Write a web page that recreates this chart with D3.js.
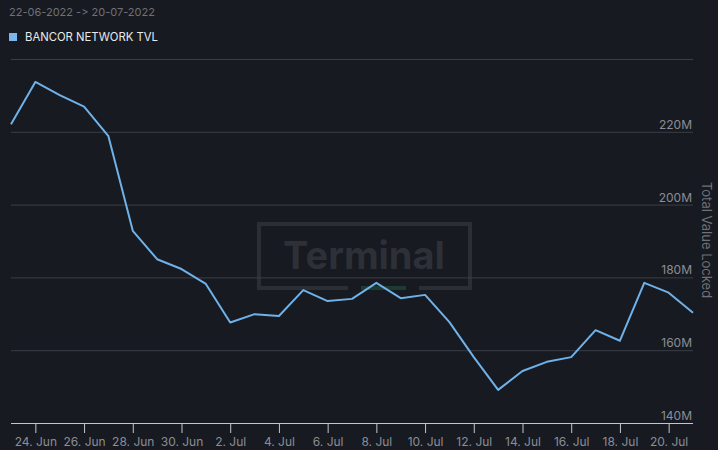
<!DOCTYPE html>
<html><head><meta charset="utf-8">
<script src="https://cdn.jsdelivr.net/npm/d3@7"></script>
<style>html,body{margin:0;padding:0;background:#171a21;}svg{display:block;font-family:Inter, "Noto Sans", sans-serif;font-feature-settings:"calt" 0, "liga" 0;font-variant-ligatures:none;}</style>
</head><body><svg id="c" width="718" height="450"></svg>
<script>
const dates = ["2022-06-23","2022-06-24","2022-06-25","2022-06-26","2022-06-27","2022-06-28","2022-06-29","2022-06-30","2022-07-01","2022-07-02","2022-07-03","2022-07-04","2022-07-05","2022-07-06","2022-07-07","2022-07-08","2022-07-09","2022-07-10","2022-07-11","2022-07-12","2022-07-13","2022-07-14","2022-07-15","2022-07-16","2022-07-17","2022-07-18","2022-07-19","2022-07-20","2022-07-21"];
const tvl = [222.1,233.7,230.1,226.9,218.8,192.8,185.0,182.3,178.2,167.6,169.9,169.4,176.5,173.5,174.1,178.5,174.3,175.2,167.7,158.1,149.1,154.3,156.8,158.1,165.5,162.6,178.5,175.8,170.3];
const yTicks = [140,160,180,200,220,240];
const seriesName = "BANCOR NETWORK TVL";
const title = "22-06-2022 -> 20-07-2022";
const yTitle = "Total Value Locked";

(function(){
const svg = d3.select("#c");
const parse = d3.utcParse("%Y-%m-%d");
const data = dates.map((d,i)=>({date:parse(d), v:tvl[i]}));
const pl=11, pr=693, pt=59, pb=423;
const x = d3.scaleUtc().domain([parse("2022-06-23"), parse("2022-07-21")]).range([pl,pr]);
const y = d3.scaleLinear().domain([140,240]).range([pb,pt]);

svg.append("rect").attr("width",718).attr("height",450).attr("fill","#171a21");

// watermark
const wm = svg.append("g");
wm.append("path").attr("d","M348,288 L259,288 L259,224 L470,224 L470,288 L419,288")
  .attr("fill","none").attr("stroke","#2b2e35").attr("stroke-width",4);
wm.append("rect").attr("x",361).attr("y",286).attr("width",45).attr("height",4).attr("fill","#1c3b31");
wm.append("text").attr("x",364).attr("y",269).attr("text-anchor","middle")
  .attr("font-size",38).attr("font-weight",700).attr("fill","#2d3037").text("Terminal");

// grid
svg.append("g").selectAll("line").data(yTicks.filter(t=>t>140)).join("line")
  .attr("x1",pl).attr("x2",pr).attr("y1",d=>y(d)+0.5).attr("y2",d=>y(d)+0.5)
  .attr("stroke","#3b3e45").attr("stroke-width",1);
svg.append("g").selectAll("text").data(yTicks.filter(t=>t<240)).join("text")
  .attr("x",692).attr("y",d=>y(d)-3).attr("text-anchor","end")
  .attr("font-size",12).attr("fill","#8b8e95").text(d=>d+"M");

// x axis
const xAxis = d3.axisBottom(x)
  .tickValues(d3.utcDay.range(parse("2022-06-24"), parse("2022-07-21"), 2))
  .tickFormat(d3.utcFormat("%-d. %b")).tickSize(10).tickSizeOuter(0).tickPadding(4);
const gx = svg.append("g").attr("transform",`translate(0,${pb})`).call(xAxis);
gx.select(".domain").attr("stroke","#c2c6ce").attr("d",`M${pl},0.5H${pr}`);
gx.selectAll(".tick line").attr("stroke","#c2c6ce");
gx.selectAll(".tick text").attr("fill","#8b8e95").attr("font-size",12).attr("font-family","Inter, 'Noto Sans', sans-serif");

// line
svg.append("path").datum(data)
  .attr("d", d3.line().x(d=>x(d.date)).y(d=>y(d.v)))
  .attr("fill","none").attr("stroke","#6fb1e8").attr("stroke-width",2).attr("stroke-linejoin","round");

// titles
svg.append("text").attr("x",9).attr("y",16).attr("font-size",11).attr("fill","#6e7178").text(title);
svg.append("rect").attr("x",9).attr("y",33).attr("width",8).attr("height",8).attr("fill","#7cb5ec");
svg.append("text").attr("x",25).attr("y",41).attr("font-size",11.3).attr("fill","#e8eaee").text(seriesName);
svg.append("text").attr("transform","translate(702,240) rotate(90)").attr("text-anchor","middle")
  .attr("font-size",13).attr("fill","#6e7178").text(yTitle);
})();
</script></body></html>
